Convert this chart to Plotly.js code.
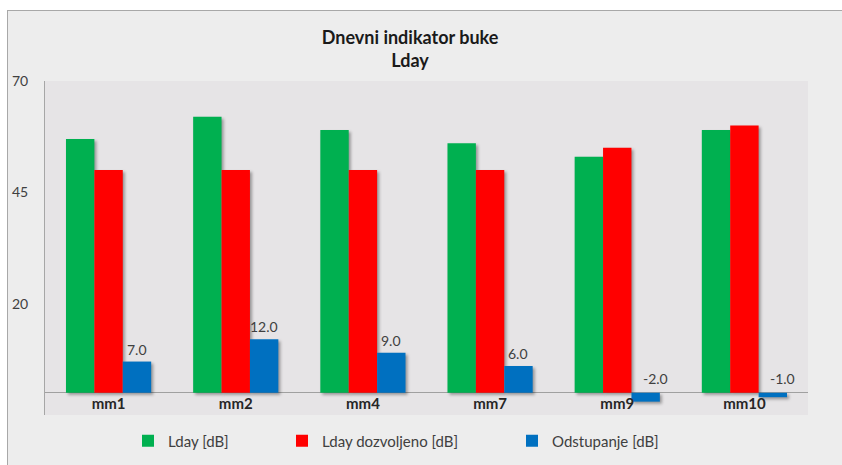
<!DOCTYPE html>
<html>
<head>
<meta charset="utf-8">
<script src="https://cdn.plot.ly/plotly-3.0.1.min.js"></script>
<style>
  html, body { margin: 0; padding: 0; background: #ffffff; }
  #frame { position: absolute; left: 7px; top: 10px; width: 842px; height: 460px;
           background: #ededed; border-left: 1px solid #a8a8a8; border-top: 1px solid #a8a8a8; }
  #chart { position: absolute; left: 0; top: 0; width: 842px; height: 465px; }
  .barlayer .point path { filter: drop-shadow(2px 2px 1.5px rgba(0,0,0,0.35)); }
</style>
</head>
<body>
<div id="frame"></div>
<div id="chart"></div>
<script>
const categories = ['mm1', 'mm2', 'mm4', 'mm7', 'mm9', 'mm10'];
const lday = [57, 62, 59, 56, 53, 59];
const ldayDozvoljeno = [50, 50, 50, 50, 55, 60];
const odstupanje = [7, 12, 9, 6, -2, -1];
const seriesNames = ['Lday [dB]', 'Lday dozvoljeno [dB]', 'Odstupanje [dB]'];
const yTicks = [-5, 20, 45, 70];

const font = 'Lato, "Open Sans", sans-serif';

const traces = [
  { type: 'bar', x: categories, y: lday, name: seriesNames[0], marker: { color: '#00b050' }, legend: 'legend' },
  { type: 'bar', x: categories, y: ldayDozvoljeno, name: seriesNames[1], marker: { color: '#ff0000' }, legend: 'legend2' },
  { type: 'bar', x: categories, y: odstupanje, name: seriesNames[2], marker: { color: '#0070c0' }, legend: 'legend3' }
];

const annotations = categories.map((c, i) => ({
  x: c, xref: 'x', yref: 'y',
  y: Math.max(odstupanje[i], 0),
  text: odstupanje[i].toFixed(1),
  showarrow: false, xanchor: 'center', yanchor: 'bottom',
  xshift: odstupanje[i] < 0 ? 38 : 28, yshift: odstupanje[i] < 0 ? 4 : 2,
  font: { family: font, size: 14, color: '#404040' }
}));

const legendBase = {
  orientation: 'h', xref: 'container', yref: 'container',
  yanchor: 'middle', xanchor: 'left', bgcolor: 'rgba(0,0,0,0)',
  font: { family: font, size: 15, color: '#404040' }, itemwidth: 30
};

const layout = {
  width: 842, height: 465,
  paper_bgcolor: 'rgba(0,0,0,0)',
  plot_bgcolor: '#e6e4e6',
  margin: { l: 45, r: 34, t: 81, b: 50 },
  barmode: 'group', bargap: 0.33, bargroupgap: 0,
  title: {
    text: '<b>Dnevni indikator buke</b><br><b>Lday</b>',
    xref: 'container', x: 0.487, xanchor: 'center',
    yref: 'container', y: 1 - 44 / 465, yanchor: 'top',
    font: { family: font, size: 18, color: '#1a1a1a' }
  },
  xaxis: {
    type: 'category', showline: false, showgrid: false, ticks: '',
    ticklabelposition: 'inside',
    tickfont: { family: font, size: 15, color: '#262626', weight: 'bold' }
  },
  yaxis: {
    range: [-5, 70], tickvals: yTicks, ticktext: yTicks.map(String),
    showgrid: false, showline: true, linecolor: '#a6a6a6', linewidth: 1,
    zeroline: true, zerolinecolor: '#a0a0a0', zerolinewidth: 1,
    ticks: '', ticklabelstandoff: 13,
    tickfont: { family: font, size: 14, color: '#404040' }
  },
  showlegend: true,
  legend: Object.assign({}, legendBase, { x: 128 / 842, y: 1 - 441 / 465 }),
  legend2: Object.assign({}, legendBase, { x: 282 / 842, y: 1 - 441 / 465 }),
  legend3: Object.assign({}, legendBase, { x: 512 / 842, y: 1 - 441 / 465 }),
  annotations: annotations
};

Plotly.newPlot('chart', traces, layout, { displayModeBar: false, staticPlot: true });
</script>
</body>
</html>
